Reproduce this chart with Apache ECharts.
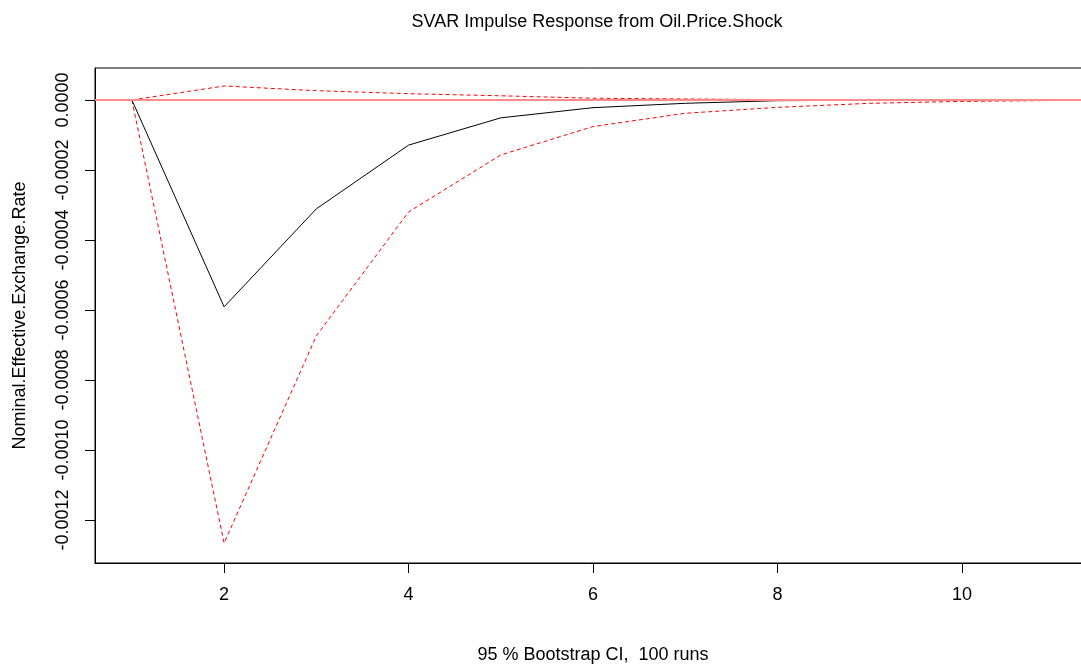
<!DOCTYPE html>
<html>
<head>
<meta charset="utf-8">
<script src="https://cdn.jsdelivr.net/npm/echarts@6/dist/echarts.min.js"></script>
<style>
  html, body { margin: 0; padding: 0; background: #fff; }
  #chart { width: 1081px; height: 664px; }
</style>
</head>
<body>
<div id="chart"></div>
<script>
// impulse response horizon and values
const horizon = [1, 2, 3, 4, 5, 6, 7, 8, 9, 10, 11]
const irf = [0, -0.000591, -0.000311, -0.000129, -0.000051, -0.000022, -0.0000095, -0.000002, -0.0000008, 0, 0]
const lower = [0, -0.001266, -0.000674, -0.00032, -0.000157, -0.000076, -0.000038, -0.000021, -0.0000095, -0.000004, -0.0000015]
const upper = [0, 0.00004, 0.0000266, 0.000018, 0.000012, 0.000005, 0.000003, 0.000001, 0.0000005, 0.0000002, 0]
const xTicks = [2, 4, 6, 8, 10]
const yTicks = [0, -0.0002, -0.0004, -0.0006, -0.0008, -0.0010, -0.0012]

const FONT = "'Liberation Sans', Arial, sans-serif"
const zip = (ys) => horizon.map((x, i) => [x, ys[i]])

const chart = echarts.init(document.getElementById('chart'), null, { renderer: 'canvas' })

chart.setOption({
  animation: false,
  backgroundColor: '#fff',
  title: {
    text: 'SVAR Impulse Response from Oil.Price.Shock',
    left: 592,
    top: 8,
    textAlign: 'center',
    textStyle: { fontFamily: FONT, fontSize: 18, fontWeight: 'normal', color: '#000' }
  },
  grid: {
    left: 95, top: 68, right: -10, bottom: 101,
    outerBoundsMode: 'none',
    containLabel: false,
    show: true, borderColor: '#000', borderWidth: 1, backgroundColor: 'transparent'
  },
  xAxis: {
    type: 'value',
    min: 0.6,
    max: 11.4,
    name: '95 % Bootstrap CI,  100 runs',
    nameLocation: 'middle',
    nameGap: 83,
    nameTextStyle: { fontFamily: FONT, fontSize: 18, color: '#000' },
    axisLine: { show: true, onZero: false, lineStyle: { color: '#000', width: 1 } },
    axisTick: { show: true, length: 10, customValues: xTicks, lineStyle: { color: '#000' } },
    axisLabel: { customValues: xTicks, margin: 23, fontFamily: FONT, fontSize: 18, color: '#000' },
    splitLine: { show: false }
  },
  yAxis: {
    type: 'value',
    min: -0.001323,
    max: 0.0000914,
    name: 'Nominal.Effective.Exchange.Rate',
    nameLocation: 'middle',
    nameRotate: 90,
    nameGap: 66,
    nameTextStyle: { fontFamily: FONT, fontSize: 18, color: '#000' },
    axisLine: { show: true, onZero: false, lineStyle: { color: '#000', width: 1 } },
    axisTick: { show: true, length: 10, customValues: yTicks, lineStyle: { color: '#000' } },
    axisLabel: {
      customValues: yTicks,
      rotate: 90,
      margin: 23,
      fontFamily: FONT,
      fontSize: 18,
      color: '#000',
      formatter: (v) => v.toFixed(4)
    },
    splitLine: { show: false }
  },
  series: [
    {
      name: 'zero',
      type: 'line',
      data: [],
      z: 1,
      markLine: {
        silent: true,
        symbol: 'none',
        label: { show: false },
        lineStyle: { color: '#ff8a8a', width: 2, type: 'solid' },
        data: [{ yAxis: 0 }]
      }
    },
    {
      name: 'upper',
      type: 'line',
      data: zip(upper),
      symbol: 'none',
      z: 2,
      lineStyle: { color: '#ff0000', width: 1, type: [4, 3] }
    },
    {
      name: 'lower',
      type: 'line',
      data: zip(lower),
      symbol: 'none',
      z: 2,
      lineStyle: { color: '#ff0000', width: 1, type: [4, 3] }
    },
    {
      name: 'irf',
      type: 'line',
      data: zip(irf),
      symbol: 'none',
      z: 3,
      lineStyle: { color: '#000', width: 1 }
    }
  ]
})
</script>
</body>
</html>
